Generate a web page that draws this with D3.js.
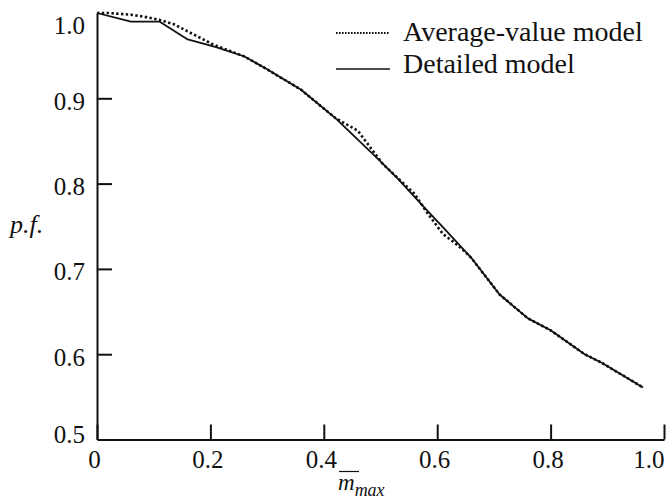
<!DOCTYPE html>
<html>
<head>
<meta charset="utf-8">
<script src="https://cdn.jsdelivr.net/npm/d3@7"></script>
<style>
  body { margin: 0; background: #fff; }
  text { font-family: "Liberation Serif", "DejaVu Serif", serif; fill: #111; }
</style>
</head>
<body>
<svg id="chart"></svg>
<script>
// values
var xTicks = [0, 0.2, 0.4, 0.6, 0.8, 1.0];
var yTicks = [0.5, 0.6, 0.7, 0.8, 0.9, 1.0];

var detailedM  = [0.00, 0.06, 0.11, 0.16, 0.21, 0.26, 0.30, 0.36, 0.42, 0.50, 0.53, 0.58, 0.61, 0.66, 0.71, 0.76, 0.80, 0.86, 0.89, 0.963];
var detailedPF = [1.000, 0.990, 0.990, 0.969, 0.960, 0.949, 0.934, 0.910, 0.877, 0.826, 0.806, 0.770, 0.749, 0.713, 0.670, 0.642, 0.628, 0.600, 0.590, 0.561];

var averageM  = [0.00, 0.02, 0.06, 0.08, 0.11, 0.135, 0.17, 0.205, 0.26, 0.30, 0.36, 0.42, 0.46, 0.504, 0.56, 0.58, 0.61, 0.63, 0.646, 0.66, 0.71, 0.76, 0.80, 0.86, 0.89, 0.963];
var averagePF = [1.000, 1.000, 0.998, 0.996, 0.992, 0.987, 0.975, 0.963, 0.949, 0.934, 0.910, 0.877, 0.862, 0.823, 0.788, 0.768, 0.741, 0.731, 0.722, 0.713, 0.670, 0.642, 0.628, 0.600, 0.590, 0.561];

var legendLabels = ["Average-value model", "Detailed model"];

var svgWidth = 666;
var svgHeight = 500;
var plotLeft = 97, plotRight = 664, plotTop = 13, plotBottom = 439.5;

var svg = d3.select("#chart")
    .attr("width", svgWidth)
    .attr("height", svgHeight);

var xScale = d3.scaleLinear().domain([0, 1.0]).range([plotLeft, plotRight]);
var yScale = d3.scaleLinear().domain([0.5, 1.0]).range([plotBottom, plotTop]);

// x axis, ticks pointing up into the plot
svg.append("g")
    .attr("class", "xAxis")
    .attr("transform", "translate(0," + plotBottom + ")")
    .call(d3.axisBottom(xScale)
        .tickValues(xTicks)
        .tickSizeInner(-15)
        .tickSizeOuter(0)
        .tickPadding(11)
        .tickFormat(function(d){ return d == 0 ? "0" : d3.format(".1f")(d); }));

// y axis, ticks pointing right
svg.append("g")
    .attr("class", "yAxis")
    .attr("transform", "translate(" + plotLeft + ",0)")
    .call(d3.axisLeft(yScale)
        .tickValues(yTicks)
        .tickSizeInner(-15)
        .tickSizeOuter(0)
        .tickPadding(12)
        .tickFormat(d3.format(".1f")));

svg.selectAll(".xAxis, .yAxis").selectAll("path, line")
    .attr("stroke", "#111")
    .attr("stroke-width", 2);

svg.selectAll(".xAxis text")
    .attr("font-size", "25px")
    .attr("font-family", "Liberation Serif")
    .attr("y", 11)
    .attr("dy", "0.68em")
    .attr("dx", -3);

svg.selectAll(".yAxis text")
    .attr("font-size", "25px")
    .attr("font-family", "Liberation Serif")
    .attr("dy", function(d){
        if (d == 1.0) return "20px";
        if (d == 0.5) return "2.5px";
        return "11px";
    });

// last x label sits inside the frame
svg.selectAll(".xAxis .tick text")
    .filter(function(d){ return d == 1.0; })
    .attr("text-anchor", "end")
    .attr("dx", 0);

// the 0.5 and 1.0 marks fall on the axis ends
svg.selectAll(".yAxis .tick line").filter(function(d){ return d == 0.5 || d == 1.0; }).remove();

var line = d3.line()
    .x(function(d){ return xScale(d[0]); })
    .y(function(d){ return yScale(d[1]); });

var detailed = d3.zip(detailedM, detailedPF);
var average = d3.zip(averageM, averagePF);

svg.append("path")
    .datum(detailed)
    .attr("fill", "none")
    .attr("stroke", "#111")
    .attr("stroke-width", 1.8)
    .attr("stroke-linejoin", "round")
    .attr("d", line);

svg.append("path")
    .datum(average)
    .attr("fill", "none")
    .attr("stroke", "#111")
    .attr("stroke-width", 2.6)
    .attr("stroke-dasharray", "2.4,2.4")
    .attr("d", line);

// legend
var legend = svg.append("g").attr("class", "legend");
legend.append("line")
    .attr("x1", 336).attr("x2", 390)
    .attr("y1", 33).attr("y2", 33)
    .attr("stroke", "#111")
    .attr("stroke-width", 2.2)
    .attr("stroke-dasharray", "1.6,1.4");
legend.append("text")
    .attr("x", 403).attr("y", 41)
    .attr("font-size", "28px")
    .text(legendLabels[0]);
legend.append("line")
    .attr("x1", 336).attr("x2", 390)
    .attr("y1", 69).attr("y2", 69)
    .attr("stroke", "#111")
    .attr("stroke-width", 1.6);
legend.append("text")
    .attr("x", 403).attr("y", 73)
    .attr("font-size", "28px")
    .text(legendLabels[1]);

// axis titles
svg.append("text")
    .attr("x", 10).attr("y", 233)
    .attr("font-size", "26px")
    .attr("font-style", "italic")
    .text("p.f.");

var xTitle = svg.append("text")
    .attr("x", 338).attr("y", 490)
    .attr("font-style", "italic");
xTitle.append("tspan")
    .attr("font-size", "23px")
    .text("m");
xTitle.append("tspan")
    .attr("font-size", "18px")
    .attr("dy", 6)
    .text("max");

svg.append("line")
    .attr("x1", 339).attr("x2", 359)
    .attr("y1", 471.5).attr("y2", 471.5)
    .attr("stroke", "#111")
    .attr("stroke-width", 1.2);
</script>
</body>
</html>
